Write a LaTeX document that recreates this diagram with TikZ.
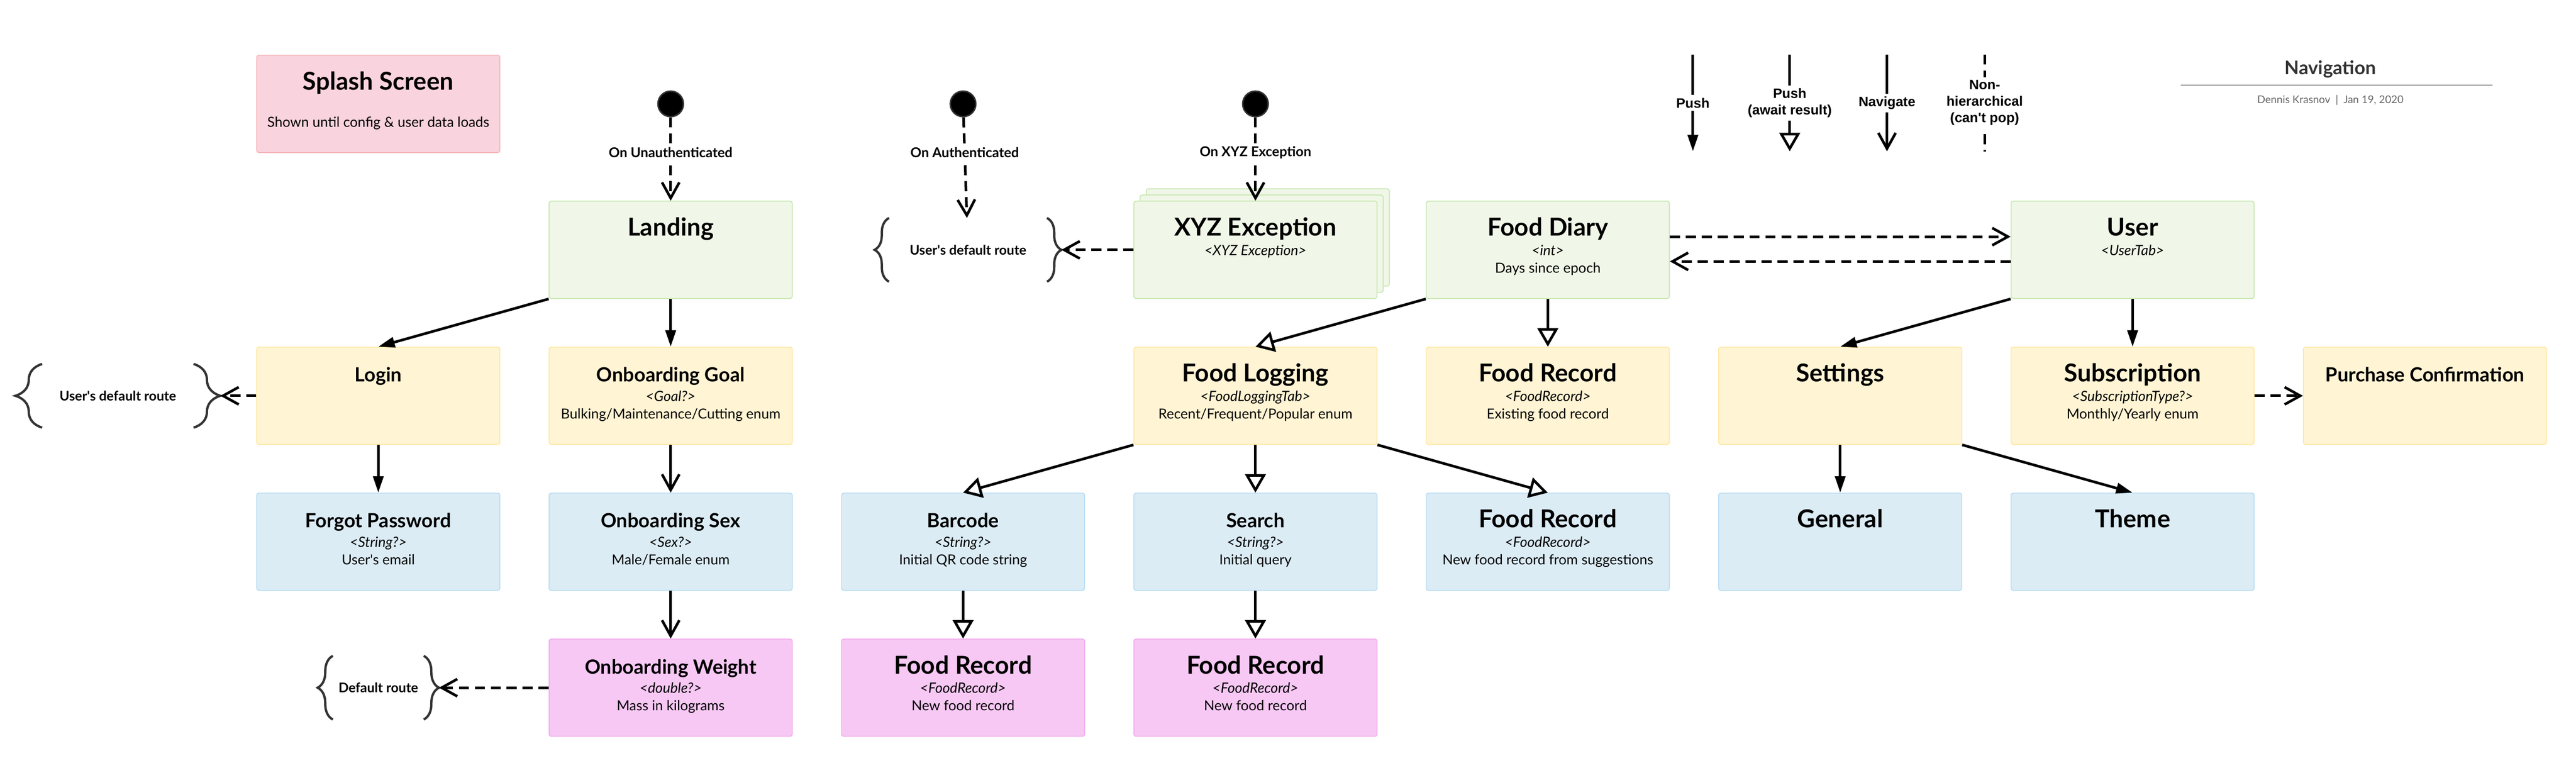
\documentclass[tikz,border=0pt]{standalone}
\usepackage{fontspec}
\setmainfont{Lato}
\newfontfamily\keyfont{Liberation Sans}
\usepackage{tikz}
\usetikzlibrary{arrows.meta}
\usetikzlibrary{shadows, decorations.pathreplacing, positioning}
\definecolor{greenfill}{HTML}{F0F7E8}
\definecolor{greenline}{HTML}{C5E6AE}
\definecolor{yellowfill}{HTML}{FFF4D4}
\definecolor{yellowline}{HTML}{FFE8A3}
\definecolor{bluefill}{HTML}{DCECF5}
\definecolor{blueline}{HTML}{B8DDF3}
\definecolor{pinkfill}{HTML}{F7C8F4}
\definecolor{pinkline}{HTML}{F2ACEE}
\definecolor{splashfill}{HTML}{F9D3DE}
\definecolor{splashline}{HTML}{F7B5B9}
\definecolor{bracegray}{HTML}{333333}
\definecolor{rulegray}{HTML}{B3B3B3}
\definecolor{authorgray}{HTML}{666666}
\newcommand{\tbig}{\fontsize{17}{19}\selectfont\bfseries}
\newcommand{\tmed}{\fontsize{13.5}{16}\selectfont\bfseries}
\newcommand{\scr}[3]{\begin{minipage}[c][2.36cm][t]{5.9cm}\centering\offinterlineskip
{\rule[-0.12cm]{0pt}{0.96cm}#1\par}
{\fontsize{9.8}{11}\selectfont\itshape\rule[-0.12cm]{0pt}{0.47cm}#2\par}
{\fontsize{9.6}{11}\selectfont\rule[-0.12cm]{0pt}{0.43cm}#3\par}
\end{minipage}}
\tikzstyle{screen} = [rectangle, rounded corners=0.05cm, inner sep=0pt, minimum width=5.9cm, minimum height=2.36cm, line width=0.6pt]
\tikzstyle{greenbox} = [screen, draw=greenline, fill=greenfill]
\tikzstyle{yellowbox} = [screen, draw=yellowline, fill=yellowfill]
\tikzstyle{bluebox} = [screen, draw=blueline, fill=bluefill]
\tikzstyle{pinkbox} = [screen, draw=pinkline, fill=pinkfill]
\tikzstyle{splashbox} = [screen, draw=splashline, fill=splashfill]
\tikzstyle{stacked} = [copy shadow={shadow xshift=0.3cm, shadow yshift=0.3cm, fill=greenfill, draw=greenline, line width=0.6pt}, copy shadow={shadow xshift=0.15cm, shadow yshift=0.15cm, fill=greenfill, draw=greenline, line width=0.6pt}]
\tikzstyle{startdot} = [circle, fill=black, draw=bracegray, line width=1pt, minimum size=0.62cm, inner sep=0pt]
\tikzstyle{route} = [rectangle, inner sep=0pt, minimum height=1.53cm, font=\fontsize{9.2}{11}\selectfont\bfseries]
\tikzstyle{curly} = [decorate, draw=bracegray, line width=1.6pt]
\tikzstyle{edgelabel} = [fill=white, inner sep=2pt, font=\fontsize{9.4}{11}\selectfont\bfseries]
\tikzstyle{keylabel} = [fill=white, inner sep=2pt, align=center, font=\keyfont\fontsize{9.4}{11.4}\selectfont\bfseries]
\tikzstyle{push} = [line width=1.8pt, -{Triangle[length=0.4cm, width=0.25cm]}]
\tikzstyle{await} = [line width=1.8pt, -{Triangle[open, length=0.45cm, width=0.5cm]}]
\tikzstyle{navigate} = [line width=1.8pt, -{Straight Barb[length=0.38cm, width=0.42cm]}]
\tikzstyle{nonhier} = [line width=1.8pt, dash pattern=on 7pt off 4pt, -{Straight Barb[length=0.38cm, width=0.42cm]}]

\begin{document}
\begin{tikzpicture}[node distance=3.54cm]
\useasboundingbox (0,0) rectangle (62.51,-18.62);
\node (splash) [splashbox] at (9.18,-2.52) {\scr{\tbig Splash Screen}{}{Shown until config \& user data loads}};
\node (start1) [startdot, right of=splash, xshift=3.555cm] {};
\node (start2) [startdot, right of=start1, xshift=3.555cm] {};
\node (start3) [startdot, right of=start2, xshift=3.555cm] {};
\node (landing) [greenbox, below of=start1] {\scr{\tbig Landing}{}{}};
\node (login) [yellowbox, below of=landing, xshift=-7.095cm] {\scr{\tmed Login}{}{}};
\node (goal) [yellowbox, below of=landing] {\scr{\tmed Onboarding Goal}{<Goal?>}{Bulking/Maintenance/Cutting enum}};
\node (forgot) [bluebox, below of=login] {\scr{\tmed Forgot Password}{<String?>}{User\textquotesingle s email}};
\node (sex) [bluebox, below of=goal] {\scr{\tmed Onboarding Sex}{<Sex?>}{Male/Female enum}};
\node (weight) [pinkbox, below of=sex] {\scr{\tmed Onboarding Weight}{<double?>}{Mass in kilograms}};
\node (loginroute) [route, minimum width=4.96cm, left of=login, xshift=-2.78cm] {User\textquotesingle s default route};
\node (defroute) [route, minimum width=2.93cm, left of=weight, xshift=-3.555cm] {Default route};
\node (authroute) [route, minimum width=4.52cm, below of=start2, xshift=0.12cm] {User\textquotesingle s default route};
\node (xyz) [greenbox, stacked, below of=start3] {\scr{\tbig XYZ Exception}{<XYZ Exception>}{}};
\node (diary) [greenbox, right of=xyz, xshift=3.555cm] {\scr{\tbig Food Diary}{<int>}{Days since epoch}};
\node (user) [greenbox, right of=diary, xshift=10.65cm] {\scr{\tbig User}{<UserTab>}{}};
\node (logging) [yellowbox, below of=xyz] {\scr{\tbig Food Logging}{<FoodLoggingTab>}{Recent/Frequent/Popular enum}};
\node (dayrecord) [yellowbox, below of=diary] {\scr{\tbig Food Record}{<FoodRecord>}{Existing food record}};
\node (settings) [yellowbox, below of=user, xshift=-7.095cm] {\scr{\tbig Settings}{}{}};
\node (subscription) [yellowbox, below of=user] {\scr{\tbig Subscription}{<SubscriptionType?>}{Monthly/Yearly enum}};
\node (purchase) [yellowbox, right of=subscription, xshift=3.555cm] {\scr{\tmed Purchase Confirmation}{}{}};
\node (barcode) [bluebox, below of=logging, xshift=-7.095cm] {\scr{\tmed Barcode}{<String?>}{Initial QR code string}};
\node (search) [bluebox, below of=logging] {\scr{\tmed Search}{<String?>}{Initial query}};
\node (suggestrecord) [bluebox, below of=dayrecord] {\scr{\tbig Food Record}{<FoodRecord>}{New food record from suggestions}};
\node (general) [bluebox, below of=settings] {\scr{\tbig General}{}{}};
\node (theme) [bluebox, below of=subscription] {\scr{\tbig Theme}{}{}};
\node (barcoderecord) [pinkbox, below of=barcode] {\scr{\tbig Food Record}{<FoodRecord>}{New food record}};
\node (searchrecord) [pinkbox, below of=search] {\scr{\tbig Food Record}{<FoodRecord>}{New food record}};
\draw [curly, decoration={brace, amplitude=0.65cm}] ([xshift=0.65cm]loginroute.south west) -- ([xshift=0.65cm]loginroute.north west);
\draw [curly, decoration={brace, amplitude=0.65cm}] ([xshift=-0.65cm]loginroute.north east) -- ([xshift=-0.65cm]loginroute.south east);
\draw [curly, decoration={brace, amplitude=0.37cm}] ([xshift=0.37cm]defroute.south west) -- ([xshift=0.37cm]defroute.north west);
\draw [curly, decoration={brace, amplitude=0.37cm}] ([xshift=-0.37cm]defroute.north east) -- ([xshift=-0.37cm]defroute.south east);
\draw [curly, decoration={brace, amplitude=0.35cm}] ([xshift=0.35cm]authroute.south west) -- ([xshift=0.35cm]authroute.north west);
\draw [curly, decoration={brace, amplitude=0.35cm}] ([xshift=-0.35cm]authroute.north east) -- ([xshift=-0.35cm]authroute.south east);
\draw [nonhier] (start1) -- node[edgelabel, pos=0.42] {On Unauthenticated} (landing);
\draw [nonhier] (start2) -- node[edgelabel, pos=0.35] {On Authenticated} (authroute);
\draw [nonhier] (start3) -- node[edgelabel, pos=0.42] {On XYZ Exception} (xyz);
\draw [push] (landing.south west) -- (login.north);
\draw [push] (landing) -- (goal);
\draw [nonhier] (login) -- (loginroute);
\draw [push] (login) -- (forgot);
\draw [navigate] (goal) -- (sex);
\draw [navigate] (sex) -- (weight);
\draw [nonhier] (weight) -- (defroute);
\draw [nonhier] (xyz) -- (authroute);
\draw [nonhier] ([yshift=0.32cm]diary.east) -- ([yshift=0.32cm]user.west);
\draw [nonhier] ([yshift=-0.28cm]user.west) -- ([yshift=-0.28cm]diary.east);
\draw [await] (diary.south west) -- (logging.north);
\draw [await] (diary) -- (dayrecord);
\draw [push] (user.south west) -- (settings.north);
\draw [push] (user) -- (subscription);
\draw [nonhier] (subscription) -- (purchase);
\draw [push] (settings) -- (general);
\draw [push] (settings.south east) -- (theme.north);
\draw [await] (logging.south west) -- (barcode.north);
\draw [await] (logging) -- (search);
\draw [await] (logging.south east) -- (suggestrecord.north);
\draw [await] (barcode) -- (barcoderecord);
\draw [await] (search) -- (searchrecord);
\coordinate (pushtop) at (41.08,-1.32);
\coordinate (pushend) at (41.08,-3.67);
\coordinate (awaittop) at (43.43,-1.32);
\coordinate (awaitend) at (43.43,-3.67);
\coordinate (navtop) at (45.79,-1.32);
\coordinate (navend) at (45.79,-3.67);
\coordinate (nonhiertop) at (48.16,-1.32);
\coordinate (nonhierend) at (48.16,-3.67);
\draw [push] (pushtop) -- node[keylabel] {Push} (pushend);
\draw [await] (awaittop) -- node[keylabel] {Push\\(await result)} (awaitend);
\draw [navigate] (navtop) -- node[keylabel] {Navigate} (navend);
\draw [nonhier, -] (nonhiertop) -- node[keylabel] {Non-\\hierarchical\\(can\textquotesingle t pop)} (nonhierend);
\node (navtitle) [font=\fontsize{13}{15}\selectfont\bfseries, text=bracegray] at (56.55,-1.68) {Navigation};
\coordinate (ruleleft) at (52.92,-2.07);
\coordinate (ruleright) at (60.49,-2.07);
\draw [rulegray, line width=0.8pt] (ruleleft) -- (ruleright);
\node (navauthor) [font=\fontsize{7.3}{9}\selectfont, text=authorgray] at (56.55,-2.43) {Dennis Krasnov\enspace\textbar\enspace Jan 19, 2020};
\end{tikzpicture}
\end{document}
